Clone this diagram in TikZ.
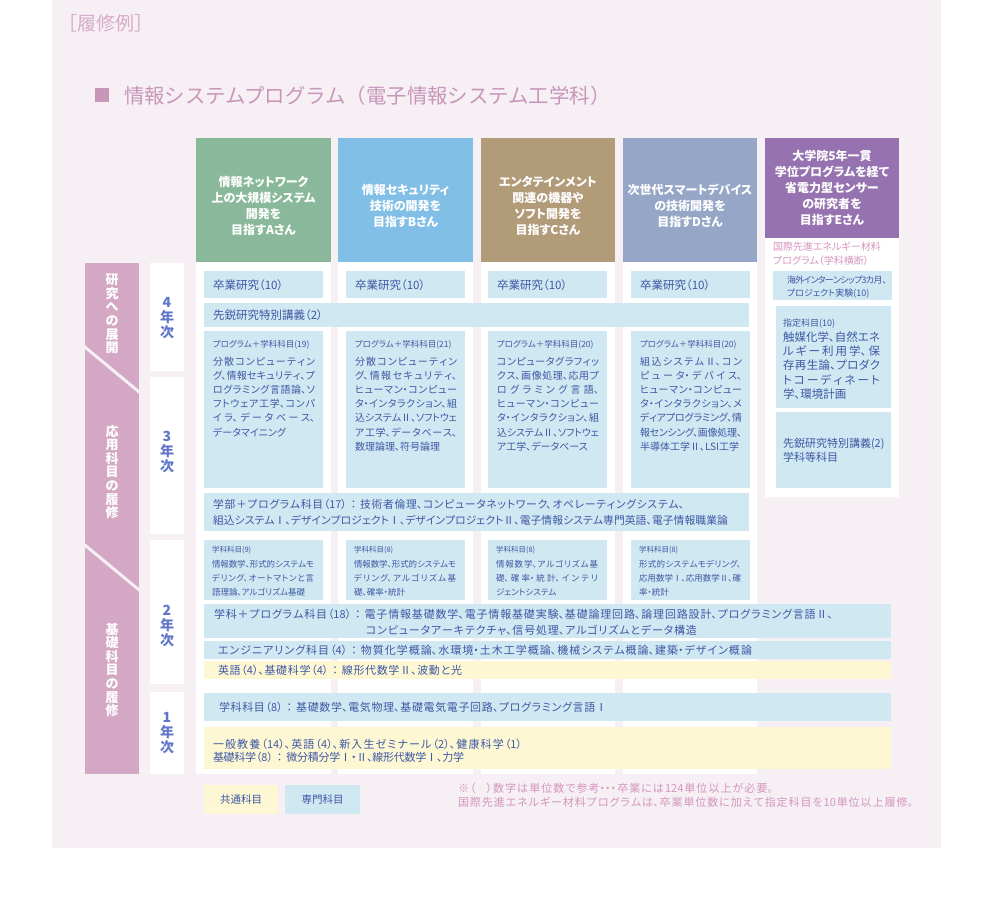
\documentclass[tikz,border=0pt]{standalone}
\usepackage{fontspec}
\newfontfamily\jp[RawFeature=+palt]{Noto Sans CJK JP}
\newfontfamily\jpn{Noto Sans CJK JP}
\XeTeXlinebreaklocale "ja"
\XeTeXlinebreakskip=0pt plus 6pt minus 1.2pt
\newcommand\fs[2]{\fontsize{#1}{#2}\selectfont}
\newcommand\jw[2]{\parbox[t]{#1pt}{\parindent0pt\parfillskip0pt\leftskip0pt\rightskip0pt\hyphenpenalty10000\relax #2}}
\newcommand\jl[1]{\jw{102}{#1}}
\newcommand\jle[1]{\jw{97}{#1}}
\newcommand\cln{\hspace{4pt}：\hspace{4pt}}
\definecolor{panel}{RGB}{246,239,244}
\definecolor{boxblue}{RGB}{208,232,242}
\definecolor{boxyel}{RGB}{253,247,212}
\definecolor{boxtext}{RGB}{62,88,164}
\definecolor{yearblue}{RGB}{96,118,200}
\definecolor{bandpink}{RGB}{212,168,196}
\definecolor{titlepink}{RGB}{200,150,185}
\definecolor{notepink}{RGB}{212,150,190}
\definecolor{expink}{RGB}{216,172,202}
\definecolor{hA}{RGB}{137,185,154}
\definecolor{hB}{RGB}{129,191,230}
\definecolor{hC}{RGB}{178,155,121}
\definecolor{hD}{RGB}{150,166,198}
\definecolor{hE}{RGB}{150,114,176}
\tikzset{
  tx/.style={anchor=base west, align=left, text=boxtext, inner sep=0pt, outer sep=0pt},
  hdr/.style={align=center, text=white, font=\jp\bfseries\fs{12}{16}, inner sep=0pt},
  yr/.style={align=center, text=yearblue, font=\jp\bfseries\fs{14}{15}, inner sep=0pt},
  band/.style={align=center, text=white, font=\jp\bfseries\fs{13}{13.6}, inner sep=0pt},
}
\begin{document}
\begin{tikzpicture}[x=1pt,y=-1pt]
\useasboundingbox (0,0) rectangle (992,904);
\fill[white] (0,0) rectangle (992,904);
\fill[panel] (52,0) rectangle (941,848);
% column backgrounds
\fill[white] (196,262) rectangle (331,774);
\fill[white] (338,262) rectangle (473,774);
\fill[white] (481,262) rectangle (615,774);
\fill[white] (623,262) rectangle (757,774);
\fill[white] (765,238) rectangle (899,497);
% headers
\fill[hA] (196,138) rectangle (331,262);
\fill[hB] (338,138) rectangle (473,262);
\fill[hC] (481,138) rectangle (615,262);
\fill[hD] (623,138) rectangle (757,262);
\fill[hE] (765,138) rectangle (899,238);
% left band
\begin{scope}
\clip (85,263) rectangle (139,774);
\fill[bandpink] (85,263) rectangle (139,774);
\draw[panel, line width=3pt] (80,343) -- (144,396);
\draw[panel, line width=3pt] (80,541) -- (144,594);
\end{scope}
% year boxes
\fill[white] (150,263) rectangle (184,371);
\fill[white] (150,377) rectangle (184,534);
\fill[white] (150,540) rectangle (184,684);
\fill[white] (150,692) rectangle (184,774);
% boxes in columns
\foreach \x in {204,346,488,631} {
  \fill[boxblue] (\x,271) rectangle ++(119,27);
  \fill[boxblue] (\x,331) rectangle ++(119,157);
  \fill[boxblue] (\x,540) rectangle ++(119,60);
}
\fill[boxblue] (204,303) rectangle (749,327);
\fill[boxblue] (204,493) rectangle (749,531);
\fill[boxblue] (204,604) rectangle (891,638);
\fill[boxblue] (204,641) rectangle (891,659);
\fill[boxyel] (204,661) rectangle (891,679);
\fill[boxblue] (204,693) rectangle (891,721);
\fill[boxyel] (204,727) rectangle (891,769);
\fill[boxblue] (773,271) rectangle (892,300);
\fill[boxblue] (776,306) rectangle (891,408);
\fill[boxblue] (776,412) rectangle (891,488);
\fill[boxyel] (204,785) rectangle (278,814);
\fill[boxblue] (285,785) rectangle (360,814);
% title
\node[tx, font=\jpn\fs{19}{20}, text=expink] (ex) at (58.5,31) {［履修例］};
\fill[titlepink] (95,88) rectangle (109,102);
\node[tx, font=\jpn\fs{20.4}{24}, text=titlepink] (title) at (124,103.5) {情報システムプログラム（電子情報システム工学科）};
% header texts
\node[hdr] (hdA) at (263.5,206) {情報ネットワーク\\上の大規模システム\\開発を\\目指すAさん};
\node[hdr] (hdB) at (405.5,206) {情報セキュリティ\\技術の開発を\\目指すBさん};
\node[hdr] (hdC) at (548,206) {エンタテインメント\\関連の機器や\\ソフト開発を\\目指すCさん};
\node[hdr] (hdD) at (690,206) {次世代スマートデバイス\\の技術開発を\\目指すDさん};
\node[hdr] (hdE) at (832,188) {大学院5年一貫\\学位プログラムを経て\\省電力型センサー\\の研究者を\\目指すEさん};
% band and year labels
\node[band] (bd1) at (112,314) {研\\究\\へ\\の\\展\\開};
\node[band] (bd2) at (112,472) {応\\用\\科\\目\\の\\履\\修};
\node[band] (bd3) at (112,670) {基\\礎\\科\\目\\の\\履\\修};
\node[yr] (y4) at (167,318) {4\\年\\次};
\node[yr] (y3) at (167,452) {3\\年\\次};
\node[yr] (y2) at (167,626) {2\\年\\次};
\node[yr] (y1) at (167,733) {1\\年\\次};
% E column (multi-line nodes: base = last line)
\node[tx, font=\jp\fs{10}{13.5}, text=notepink] (esub) at (773,264) {国際先進エネルギー材料\\プログラム（学科横断）};
\node[tx, font=\jp\fs{9}{13}] (e1) at (787,296) {\jw{100}{海外インターンシップ3カ月、}\\プロジェクト実験(10)};
\node[tx, font=\jp\fs{9}{11}] (e2h) at (783,326.5) {指定科目(10)};
\node[tx, font=\jp\fs{11.5}{14.3}] (e2b) at (783,398.5) {\jle{触媒化学、自然エネ}\\\jle{ルギー利用学、保}\\\jle{存再生論、プロダク}\\\jle{トコーディネート}\\学、環境計画};
\node[tx, font=\jp\fs{11}{14}] (e3) at (783,461) {先鋭研究特別講義(2)\\学科等科目};
% 4th year
\node[tx, font=\jp\fs{11.5}{13}] (gA) at (213,289) {卒業研究（10）};
\node[tx, font=\jp\fs{11.5}{13}] (gB) at (355,289) {卒業研究（10）};
\node[tx, font=\jp\fs{11.5}{13}] (gC) at (497,289) {卒業研究（10）};
\node[tx, font=\jp\fs{11.5}{13}] (gD) at (640,289) {卒業研究（10）};
\node[tx, font=\jp\fs{11.5}{13}] (sen) at (213,319) {先鋭研究特別講義（2）};
% program boxes
\node[tx, font=\jp\fs{8.5}{10}] (phA) at (213,347) {プログラム＋学科科目(19)};
\node[tx, font=\jp\fs{8.5}{10}] (phB) at (355,347) {プログラム＋学科科目(21)};
\node[tx, font=\jp\fs{8.5}{10}] (phC) at (497,347) {プログラム＋学科科目(20)};
\node[tx, font=\jp\fs{8.5}{10}] (phD) at (640,347) {プログラム＋学科科目(20)};
\node[tx, font=\jp\fs{10}{14.2}] (pbA) at (213,436) {\jl{分散コンピューティン}\\\jl{グ、情報セキュリティ、プ}\\\jl{ログラミング言語論、ソ}\\\jl{フトウェア工学、コンパ}\\\jl{イラ、データベース、}\\データマイニング};
\node[tx, font=\jp\fs{10}{14.2}] (pbB) at (355,450.2) {\jl{分散コンピューティン}\\\jl{グ、情報セキュリティ、}\\\jl{ヒューマン・コンピュー}\\\jl{タ・インタラクション、組}\\\jl{込システムⅡ、ソフトウェ}\\\jl{ア工学、データベース、}\\数理論理、符号論理};
\node[tx, font=\jp\fs{10}{14.2}] (pbC) at (497,450.2) {\jl{コンピュータグラフィッ}\\\jl{クス、画像処理、応用プ}\\\jl{ログラミング言語、}\\\jl{ヒューマン・コンピュー}\\\jl{タ・インタラクション、組}\\\jl{込システムⅡ、ソフトウェ}\\ア工学、データベース};
\node[tx, font=\jp\fs{10}{14.2}] (pbD) at (640,450.2) {\jl{組込システムⅡ、コン}\\\jl{ピュータ・デバイス、}\\\jl{ヒューマン・コンピュー}\\\jl{タ・インタラクション、メ}\\\jl{ディアプログラミング、情}\\\jl{報センシング、画像処理、}\\半導体工学Ⅱ、LSI工学};
\node[tx, font=\jp\fs{10.8}{16}] (g17) at (213,524) {\jw{471}{学部＋プログラム科目（17）\cln 技術者倫理、コンピュータネットワーク、オペレーティングシステム、}\\\jw{515}{組込システムⅠ、デザインプロジェクトⅠ、デザインプロジェクトⅡ、電子情報システム専門英語、電子情報職業論}};
% 2nd year
\node[tx, font=\jp\fs{7.5}{9}] (khA) at (212,552) {学科科目(9)};
\node[tx, font=\jp\fs{7.5}{9}] (khB) at (354,552) {学科科目(8)};
\node[tx, font=\jp\fs{7.5}{9}] (khC) at (496,552) {学科科目(8)};
\node[tx, font=\jp\fs{7.5}{9}] (khD) at (639,552) {学科科目(8)};
\node[tx, font=\jp\fs{8.5}{14}] (kbA) at (212,595.2) {\jl{情報数学、形式的システムモ}\\\jl{デリング、オートマトンと言}\\語理論、アルゴリズム基礎};
\node[tx, font=\jp\fs{8.5}{14}] (kbB) at (354,595.2) {\jl{情報数学、形式的システムモ}\\\jl{デリング、アルゴリズム基}\\礎、確率・統計};
\node[tx, font=\jp\fs{8.5}{14}] (kbC) at (496,595.2) {\jl{情報数学、アルゴリズム基}\\\jl{礎、確率・統計、インテリ}\\ジェントシステム};
\node[tx, font=\jp\fs{8.5}{14}] (kbD) at (639,595.2) {\jl{形式的システムモデリング、}\\\jl{応用数学Ⅰ、応用数学Ⅱ、確}\\率・統計};
\node[tx, font=\jp\fs{11}{16}] (p18a) at (214,618) {\jw{619}{学科＋プログラム科目（18）\cln 電子情報基礎数学、電子情報基礎実験、基礎論理回路、論理回路設計、プログラミング言語Ⅱ、}};
\node[tx, font=\jp\fs{11}{16}] (p18b) at (366,634) {\jw{331}{コンピュータアーキテクチャ、信号処理、アルゴリズムとデータ構造}};
\node[tx, font=\jp\fs{11}{16}] (eng) at (218,654) {\jw{534}{エンジニアリング科目（4）\cln 物質化学概論、水環境・土木工学概論、機械システム概論、建築・デザイン概論}};
\node[tx, font=\jp\fs{11}{16}] (eig) at (218,674) {\jw{244}{英語（4）、基礎科学（4）\cln 線形代数学Ⅱ、波動と光}};
% 1st year
\node[tx, font=\jp\fs{11}{16}] (k8) at (219,711) {\jw{388}{学科科目（8）\cln 基礎数学、電気物理、基礎電気電子回路、プログラミング言語Ⅰ}};
\node[tx, font=\jp\fs{11}{13.5}] (ipn) at (213,761.5) {\jw{309}{一般教養（14）、英語（4）、新入生ゼミナール（2）、健康科学（1）}\\\jw{251}{基礎科学（8）\cln 微分積分学Ⅰ・Ⅱ、線形代数学Ⅰ、力学}};
% legend and note
\node[font=\jp\fs{10.5}{12}, text=boxtext, inner sep=0pt] (lg1) at (241,799.5) {共通科目};
\node[font=\jp\fs{10.5}{12}, text=boxtext, inner sep=0pt] (lg2) at (322.5,799.5) {専門科目};
\node[tx, font=\jp\fs{11}{14}, text=notepink] (note) at (458,806.5) {\jw{315}{※（　）数字は単位数で参考・・・卒業には124単位以上が必要。}\\\jw{455}{国際先進エネルギー材料プログラムは、卒業単位数に加えて指定科目を10単位以上履修。}};
\end{tikzpicture}
\end{document}
